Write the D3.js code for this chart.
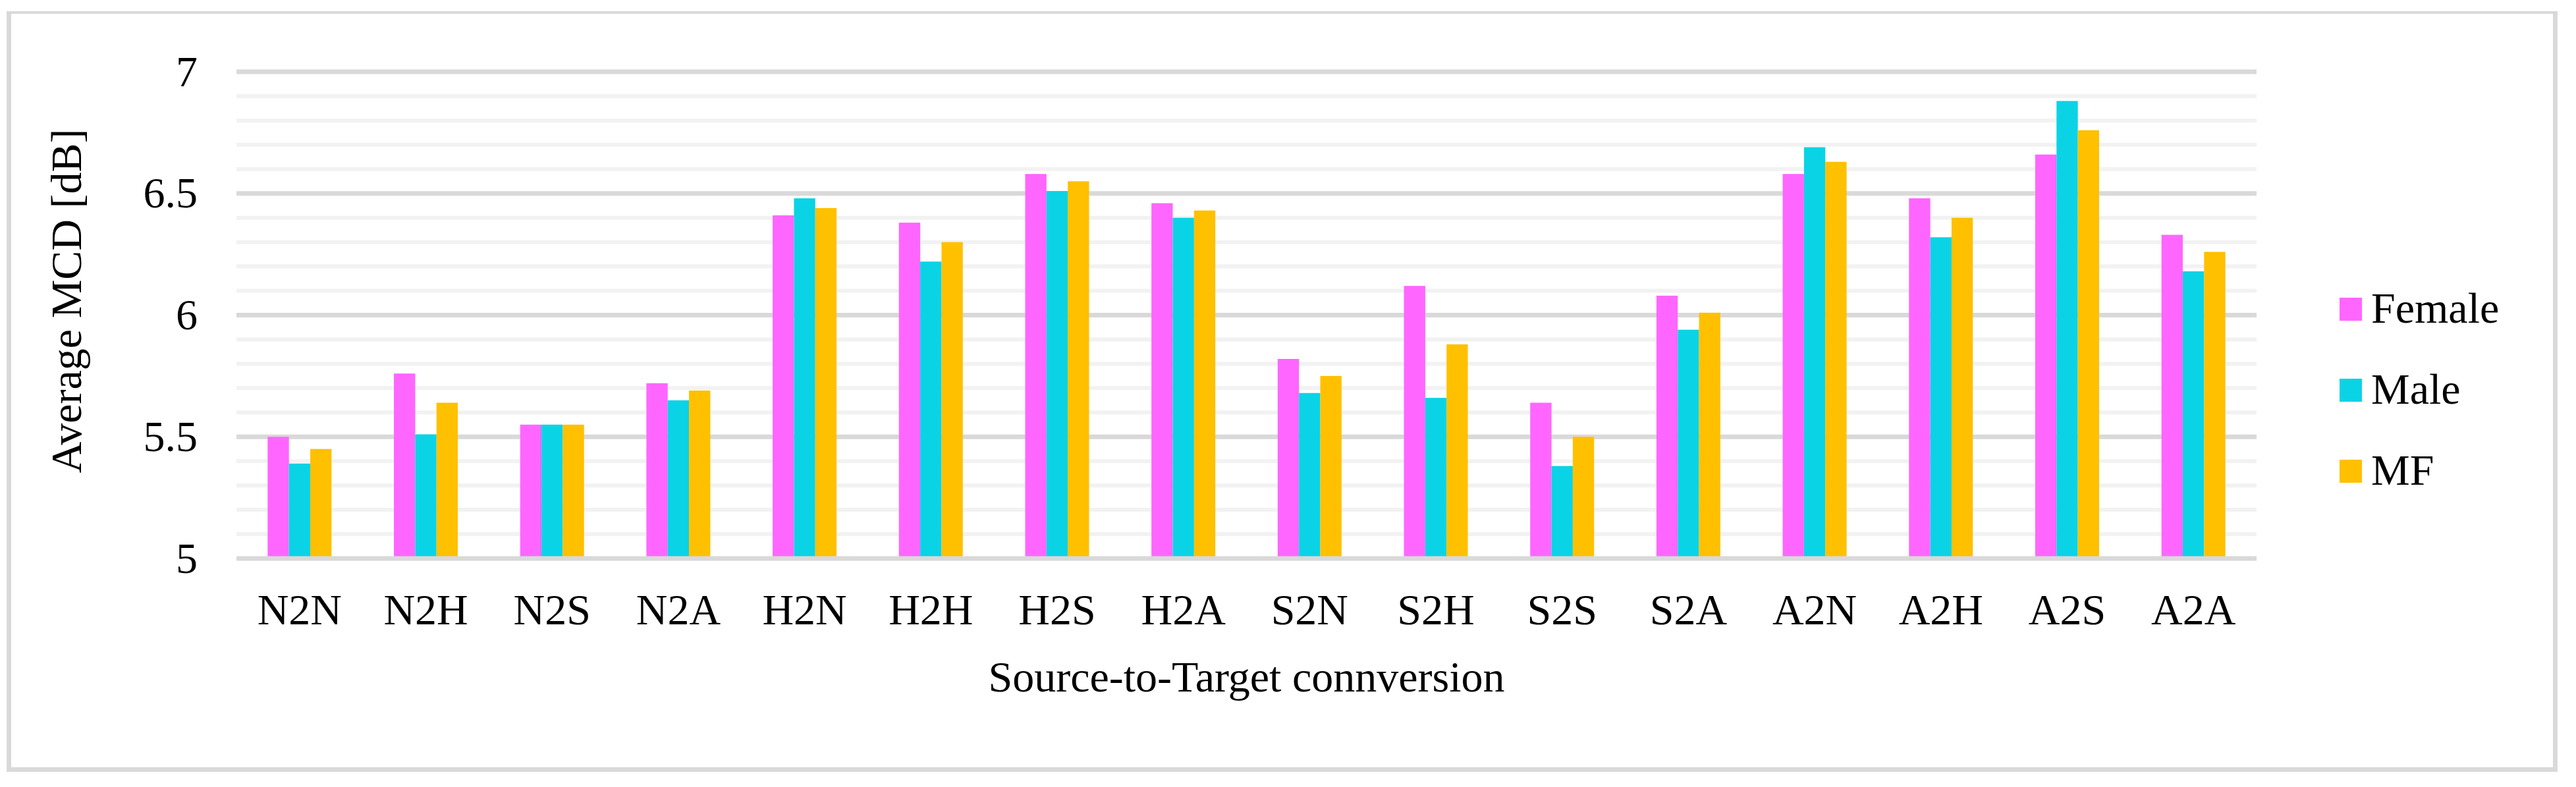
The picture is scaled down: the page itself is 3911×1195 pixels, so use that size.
<!DOCTYPE html>
<html>
<head>
<meta charset="utf-8">
<script src="https://cdn.jsdelivr.net/npm/d3@7"></script>
<style>
  html, body { margin: 0; padding: 0; background: #fff; }
  svg { display: block; }
  text { font-family: "Liberation Serif", "Times New Roman", serif; fill: #000; }
</style>
</head>
<body>
<svg id="chart" width="3911" height="1195"></svg>
<script>
const categories = ["N2N","N2H","N2S","N2A","H2N","H2H","H2S","H2A","S2N","S2H","S2S","S2A","A2N","A2H","A2S","A2A"];
const seriesNames = ["Female", "Male", "MF"];
const female = [5.50, 5.76, 5.55, 5.72, 6.41, 6.38, 6.58, 6.46, 5.82, 6.12, 5.64, 6.08, 6.58, 6.48, 6.66, 6.33];
const male   = [5.39, 5.51, 5.55, 5.65, 6.48, 6.22, 6.51, 6.40, 5.68, 5.66, 5.38, 5.94, 6.69, 6.32, 6.88, 6.18];
const mf     = [5.45, 5.64, 5.55, 5.69, 6.44, 6.30, 6.55, 6.43, 5.75, 5.88, 5.50, 6.01, 6.63, 6.40, 6.76, 6.26];
const yTicks = [5, 5.5, 6, 6.5, 7];
const yMinorTicks = [5.1, 5.2, 5.3, 5.4, 5.6, 5.7, 5.8, 5.9, 6.1, 6.2, 6.3, 6.4, 6.6, 6.7, 6.8, 6.9];
const colors = ["#FF66FF", "#0AD3E6", "#FFC000"];
const yTitle = "Average MCD [dB]";
const xTitle = "Source-to-Target connversion";

const seriesValues = [female, male, mf];
const svg = d3.select("#chart");
const W = 3911, H = 1195;
const plot = { left: 359, right: 3426, top: 109, bottom: 848 };
const FS = 66;

svg.append("rect").attr("x", 0).attr("y", 0).attr("width", W).attr("height", H).attr("fill", "#fff");

// outer frame
const frame = svg.append("g").attr("stroke", "#D9D9D9");
frame.append("line").attr("x1", 13.5).attr("x2", 13.5).attr("y1", 17).attr("y2", 1172).attr("stroke-width", 7);
frame.append("line").attr("x1", 10).attr("x2", 3883).attr("y1", 19).attr("y2", 19).attr("stroke-width", 4);
frame.append("line").attr("x1", 3879.5).attr("x2", 3879.5).attr("y1", 17).attr("y2", 1172).attr("stroke-width", 7);
frame.append("line").attr("x1", 10).attr("x2", 3883).attr("y1", 1168.5).attr("y2", 1168.5).attr("stroke-width", 7);

const y = d3.scaleLinear().domain([5, 7]).range([plot.bottom, plot.top]);
const x0 = d3.scaleBand().domain(categories).range([plot.left, plot.right])
  .paddingInner(0.494).paddingOuter(0.247);
const x1 = d3.scaleBand().domain(seriesNames).range([0, x0.bandwidth()]);

// gridlines
svg.append("g").selectAll("line").data(yMinorTicks).join("line")
  .attr("x1", plot.left).attr("x2", plot.right)
  .attr("y1", d => y(d)).attr("y2", d => y(d))
  .attr("stroke", "#F2F2F2").attr("stroke-width", 6);
svg.append("g").selectAll("line").data(yTicks.filter(d => d !== 5)).join("line")
  .attr("x1", plot.left).attr("x2", plot.right)
  .attr("y1", d => y(d)).attr("y2", d => y(d))
  .attr("stroke", "#D9D9D9").attr("stroke-width", 7);

// bars
const groups = svg.append("g").selectAll("g").data(categories).join("g")
  .attr("transform", d => `translate(${x0(d)},0)`);
groups.selectAll("rect")
  .data((c, i) => seriesNames.map((s, k) => ({ s, k, v: seriesValues[k][i] })))
  .join("rect")
  .attr("x", d => x1(d.s))
  .attr("width", x1.bandwidth())
  .attr("y", d => y(d.v))
  .attr("height", d => y(5) - y(d.v))
  .attr("fill", d => colors[d.k]);

// baseline
svg.append("line").attr("x1", plot.left).attr("x2", plot.right)
  .attr("y1", y(5)).attr("y2", y(5))
  .attr("stroke", "#D9D9D9").attr("stroke-width", 7);

// y axis
const yAxis = svg.append("g").attr("transform", `translate(${plot.left},0)`)
  .call(d3.axisLeft(y).tickValues(yTicks).tickSize(0).tickPadding(59).tickFormat(d => String(d)));
yAxis.select(".domain").remove();
yAxis.selectAll("text").style("font-family", "'Liberation Serif', 'Times New Roman', serif").attr("font-size", FS).attr("fill", "#000");

// x axis
const xAxis = svg.append("g").attr("transform", `translate(0,${plot.bottom})`)
  .call(d3.axisBottom(x0).tickSize(0).tickPadding(53));
xAxis.select(".domain").remove();
xAxis.selectAll("text").style("font-family", "'Liberation Serif', 'Times New Roman', serif").attr("font-size", FS).attr("fill", "#000");

// axis titles
svg.append("text").attr("x", (plot.left + plot.right) / 2).attr("y", 1050)
  .attr("text-anchor", "middle").attr("font-size", FS).text(xTitle);
svg.append("text").attr("transform", "translate(123,457) rotate(-90)")
  .attr("text-anchor", "middle").attr("font-size", FS).text(yTitle);

// legend
const legend = svg.append("g").selectAll("g").data(seriesNames).join("g")
  .attr("transform", (d, i) => `translate(3552,${469.5 + i * 123})`);
legend.append("rect").attr("x", 0).attr("y", -17.5).attr("width", 34).attr("height", 35)
  .attr("fill", (d, i) => colors[i]);
legend.append("text").attr("x", 48).attr("y", 20).attr("font-size", FS).text(d => d);
</script>
</body>
</html>
